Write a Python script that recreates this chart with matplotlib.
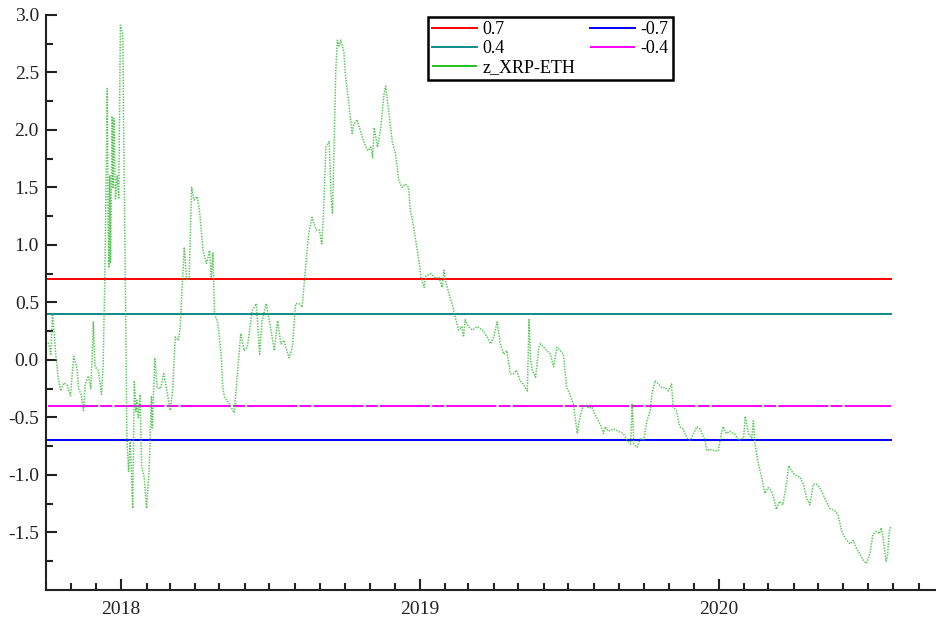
import numpy as np
import matplotlib
matplotlib.use("Agg")
import matplotlib.pyplot as plt
import matplotlib.dates as mdates
from matplotlib.lines import Line2D

plt.rcParams['font.family'] = ['Liberation Serif', 'DejaVu Serif']
plt.rcParams['axes.unicode_minus'] = False
plt.rcParams['lines.scale_dashes'] = False

start = np.datetime64('2017-10-01')

# day offsets from start and z-score of the XRP-ETH spread
days = [3, 6, 8, 10, 12, 15, 18, 22, 26, 30, 34, 38, 40, 43, 46, 48, 52, 55, 58, 60,
        64, 68, 70, 72, 75, 76, 77, 78, 79, 81, 82, 83, 85, 87, 89, 91, 94, 95, 97, 99,
        101, 103, 106, 108, 110, 111, 113, 115, 117, 120, 123, 126, 129, 130, 133, 136,
        140, 144, 148, 152, 155, 158, 162, 164, 167, 169, 172, 175, 178, 181, 185, 188,
        192, 196, 200, 202, 204, 206, 210, 214, 216, 218, 224, 230, 234, 238, 242, 246,
        252, 257, 261, 264, 269, 273, 279, 283, 287, 291, 293, 297, 301, 305, 309, 313,
        317, 321, 325, 330, 334, 337, 339, 342, 346, 348, 350, 352, 354, 356, 358, 360,
        362, 364, 366, 370, 374, 376, 380, 385, 389, 393, 397, 399, 401, 405, 409, 413,
        415, 419, 423, 427, 431, 435, 439, 443, 445, 447, 449, 451, 456, 458, 462, 464,
        470, 476, 480, 484, 486, 488, 492, 496, 500, 504, 508, 510, 512, 516, 521, 527,
        533, 539, 543, 547, 551, 555, 559, 563, 567, 571, 575, 579, 583, 588, 590, 592,
        594, 598, 602, 604, 608, 612, 616, 620, 624, 628, 632, 636, 640, 644, 649, 651,
        655, 659, 663, 667, 671, 677, 681, 683, 687, 693, 699, 705, 710, 714, 716, 718,
        722, 726, 730, 734, 738, 740, 744, 748, 752, 756, 760, 764, 766, 770, 774, 778,
        783, 787, 791, 795, 799, 805, 807, 811, 817, 821, 825, 827, 831, 835, 842, 846,
        852, 854, 858, 862, 864, 866, 870, 874, 878, 882, 886, 890, 892, 896, 900, 905,
        907, 911, 915, 921, 925, 929, 933, 937, 941, 945, 949, 953, 957, 963, 967, 972,
        976, 982, 986, 990, 994, 998, 1002, 1006, 1010, 1014, 1018, 1020, 1022, 1024,
        1026, 1028, 1030, 1032]

z_xrp_eth = [0.15, 0.05, 0.4, 0.25, 0.05, -0.15, -0.27, -0.2, -0.22, -0.31, 0.03, -0.07,
             -0.25, -0.3, -0.44, -0.21, -0.14, -0.25, 0.33, -0.06, -0.09, -0.3, -0.03, 0.72,
             2.36, 1.2, 0.8, 1.6, 0.85, 2.12, 1.5, 2.1, 1.4, 1.6, 1.4, 2.91, 2.83, 2.0, 0.72,
             -0.7, -0.97, -0.7, -1.29, -0.19, -0.45, -0.35, -0.5, -0.3, -0.93, -1.02, -1.29,
             -0.97, -0.32, -0.59, 0.01, -0.24, -0.25, -0.12, -0.28, -0.44, -0.24, 0.2, 0.17,
             0.28, 0.72, 0.98, 0.69, 0.72, 1.5, 1.39, 1.42, 1.27, 0.95, 0.84, 0.95, 0.72,
             0.93, 0.4, 0.32, 0.05, -0.24, -0.32, -0.38, -0.46, -0.12, 0.23, 0.08, 0.11,
             0.43, 0.49, 0.05, 0.34, 0.49, 0.34, 0.08, 0.34, 0.14, 0.17, 0.11, 0.02, 0.11,
             0.49, 0.49, 0.46, 0.8, 1.1, 1.24, 1.13, 1.13, 1.01, 1.27, 1.85, 1.9, 1.45,
             1.27, 1.85, 2.52, 2.78, 2.73, 2.78, 2.73, 2.67, 2.46, 2.23, 1.97, 2.05, 2.09,
             1.97, 1.88, 1.82, 1.85, 1.76, 2.02, 1.85, 2.02, 2.32, 2.38, 2.14, 1.9, 1.79,
             1.56, 1.5, 1.53, 1.5, 1.3, 1.24, 1.16, 1.07, 0.84, 0.72, 0.63, 0.73, 0.75,
             0.71, 0.72, 0.63, 0.78, 0.69, 0.58, 0.49, 0.37, 0.26, 0.29, 0.2, 0.35, 0.29,
             0.26, 0.29, 0.26, 0.2, 0.14, 0.2, 0.33, 0.14, 0.05, 0.08, -0.12, -0.12, -0.09,
             -0.18, -0.21, -0.27, 0.35, 0.0, -0.09, -0.15, 0.11, 0.14, 0.11, 0.08, 0.05,
             -0.06, 0.11, 0.08, 0.05, -0.24, -0.3, -0.38, -0.64, -0.54, -0.42, -0.39, -0.42,
             -0.41, -0.48, -0.56, -0.64, -0.58, -0.62, -0.6, -0.62, -0.64, -0.7, -0.73,
             -0.38, -0.73, -0.76, -0.68, -0.7, -0.53, -0.44, -0.3, -0.18, -0.21, -0.24,
             -0.24, -0.27, -0.21, -0.41, -0.44, -0.58, -0.6, -0.68, -0.7, -0.64, -0.58,
             -0.6, -0.7, -0.79, -0.78, -0.79, -0.79, -0.64, -0.58, -0.64, -0.62, -0.65,
             -0.7, -0.68, -0.49, -0.64, -0.68, -0.53, -0.73, -0.9, -1.02, -1.16, -1.11,
             -1.14, -1.23, -1.3, -1.23, -1.26, -1.05, -0.92, -0.97, -1.0, -1.02, -1.08,
             -1.2, -1.26, -1.08, -1.08, -1.11, -1.17, -1.23, -1.29, -1.31, -1.34, -1.49,
             -1.55, -1.6, -1.57, -1.64, -1.69, -1.74, -1.77, -1.69, -1.52, -1.49, -1.51,
             -1.46, -1.52, -1.64, -1.75, -1.69, -1.49, -1.44]

# threshold bands
levels = [0.7, 0.4, -0.7, -0.4]
level_labels = ['0.7', '0.4', '-0.7', '-0.4']
level_colors = ['#ff0000', '#0f8a8a', '#0000ff', '#ff00ff']

long_short = (0, (36, 1.6, 8.6, 1.6))
level_styles = ['-', '-', '-', long_short]

dates = start + np.array(days).astype('timedelta64[D]')

fig = plt.figure(figsize=(9.36, 6.21), dpi=100)
ax = fig.add_axes([0.049, 0.05, 0.951, 0.926])

handles = {}
for lv, lab, col, ls in zip(levels, level_labels, level_colors, level_styles):
    h, = ax.plot([dates[0], dates[-1]], [lv, lv], color=col, lw=1.4, linestyle=ls, label=lab)
    handles[lab] = h

ax.plot(dates, z_xrp_eth, color='#2ab82a', lw=1.1, linestyle=(0, (1, 1)), alpha=0.8)
z_handle = Line2D([], [], color='#22c022', lw=1.4, linestyle=long_short)

ax.set_ylim(-2.0, 3.0)
ax.set_xlim(np.datetime64('2017-10-01'), np.datetime64('2020-09-22'))

ax.set_yticks(np.arange(-1.5, 3.01, 0.5))
ax.set_yticks(np.arange(-1.75, 3.0, 0.5), minor=True)
ax.yaxis.set_major_formatter(matplotlib.ticker.FormatStrFormatter('%.1f'))

ax.xaxis.set_major_locator(mdates.YearLocator())
ax.xaxis.set_major_formatter(mdates.DateFormatter('%Y'))
ax.xaxis.set_minor_locator(mdates.MonthLocator())

ax.tick_params(which='both', direction='in', width=1.5, colors='#222222', labelsize=14)
ax.tick_params(which='major', length=8)
ax.tick_params(which='minor', length=5)
ax.tick_params(axis='x', pad=8)
ax.tick_params(axis='y', pad=5)

for side in ['top', 'right']:
    ax.spines[side].set_visible(False)
for side in ['left', 'bottom']:
    ax.spines[side].set_linewidth(1.5)
    ax.spines[side].set_color('#222222')

leg = ax.legend([handles['0.7'], handles['0.4'], z_handle, handles['-0.7'], handles['-0.4']],
                ['0.7', '0.4', 'z_XRP-ETH', '-0.7', '-0.4'],
                ncol=2, loc='upper left', bbox_to_anchor=(0.457, 0.973),
                bbox_transform=fig.transFigure, fontsize=13, frameon=True, fancybox=False,
                framealpha=1, edgecolor='black', borderpad=0.25, labelspacing=0.1,
                handlelength=2.5, handletextpad=0.3, columnspacing=0.8, borderaxespad=0)
leg.get_frame().set_linewidth(1.8)

fig.savefig('out.png', dpi=100)
